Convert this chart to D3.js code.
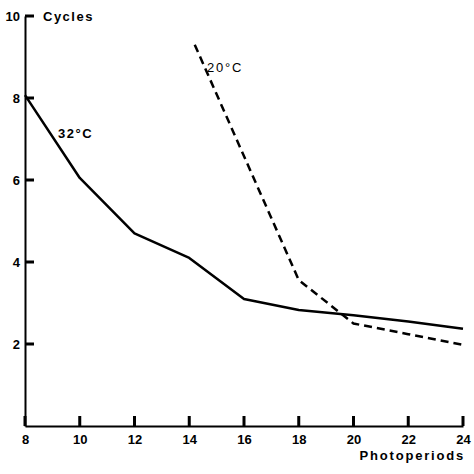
<!DOCTYPE html>
<html>
<head>
<meta charset="utf-8">
<script src="https://cdn.jsdelivr.net/npm/d3@7"></script>
<style>
  html, body { margin: 0; padding: 0; background: #fff; }
  svg { display: block; }
</style>
</head>
<body>
<div id="chart"></div>
<script>
(function () {
  "use strict";

  // values
  var xTicks = [8, 10, 12, 14, 16, 18, 20, 22, 24];
  var yTicks = [2, 4, 6, 8, 10];

  var hot32 = [
    { x: 8, y: 8.07 }, { x: 10, y: 6.05 }, { x: 12, y: 4.7 }, { x: 14, y: 4.1 },
    { x: 16, y: 3.1 }, { x: 18, y: 2.83 }, { x: 20, y: 2.7 }, { x: 22, y: 2.55 },
    { x: 24, y: 2.37 }
  ];
  var cool20 = [
    { x: 14.2, y: 9.3 }, { x: 18, y: 3.56 }, { x: 20, y: 2.5 }, { x: 22, y: 2.24 },
    { x: 24, y: 1.98 }
  ];

  var w = 474, h = 474;
  var font = "'Liberation Sans', Arial, sans-serif";

  var svg = d3.select("#chart").append("svg")
    .attr("width", w)
    .attr("height", h)
    .attr("viewBox", [0, 0, w, h]);

  var x = d3.scaleLinear().domain([8, 24]).range([25, 463]);
  var y = d3.scaleLinear().domain([0, 10]).range([426, 16]);

  var xAxis = svg.append("g")
    .attr("transform", "translate(0," + y(0) + ")")
    .call(d3.axisBottom(x).tickValues(xTicks).tickSize(0).tickPadding(9));

  var yAxis = svg.append("g")
    .attr("transform", "translate(" + x(8) + ",0)")
    .call(d3.axisLeft(y).tickValues(yTicks).tickSize(0).tickPadding(5));

  [xAxis, yAxis].forEach(function (a) {
    a.select(".domain").attr("stroke", "#000").attr("stroke-width", 2);
    a.selectAll(".tick text")
      .attr("fill", "#000")
      .attr("font-family", font)
      .attr("font-weight", "bold")
      .attr("font-size", 13);
  });

  // inward tick marks
  var tickPath = d3.path();
  xTicks.forEach(function (d) {
    tickPath.moveTo(x(d), y(0));
    tickPath.lineTo(x(d), y(0) - 10);
  });
  yTicks.forEach(function (d) {
    tickPath.moveTo(x(8), y(d));
    tickPath.lineTo(x(8) + 9, y(d));
  });
  svg.append("path")
    .attr("d", tickPath.toString())
    .attr("fill", "none")
    .attr("stroke", "#000")
    .attr("stroke-width", 3);

  // axis titles
  svg.append("text")
    .attr("x", 43).attr("y", 21)
    .attr("font-family", font).attr("font-weight", "bold").attr("font-size", 13)
    .attr("letter-spacing", 1.5)
    .text("Cycles");

  svg.append("text")
    .attr("x", 465).attr("y", 460)
    .attr("text-anchor", "end")
    .attr("font-family", font).attr("font-weight", "bold").attr("font-size", 13)
    .attr("letter-spacing", 1.8)
    .text("Photoperiods");

  var line = d3.line()
    .x(function (d) { return x(d.x); })
    .y(function (d) { return y(d.y); });

  svg.append("path")
    .datum(hot32)
    .attr("d", line)
    .attr("fill", "none")
    .attr("stroke", "#000")
    .attr("stroke-width", 2.5)
    .attr("stroke-linejoin", "round");

  svg.append("path")
    .datum(cool20)
    .attr("d", line)
    .attr("fill", "none")
    .attr("stroke", "#000")
    .attr("stroke-width", 2.5)
    .attr("stroke-dasharray", "8,5");

  // series labels
  svg.append("text")
    .attr("x", 58).attr("y", 138)
    .attr("font-family", font).attr("font-weight", "bold").attr("font-size", 13)
    .attr("letter-spacing", 1.5)
    .text("32°C");

  svg.append("text")
    .attr("x", 207).attr("y", 72)
    .attr("font-family", font).attr("font-size", 13)
    .attr("letter-spacing", 1.8)
    .text("20°C");
})();
</script>
</body>
</html>
